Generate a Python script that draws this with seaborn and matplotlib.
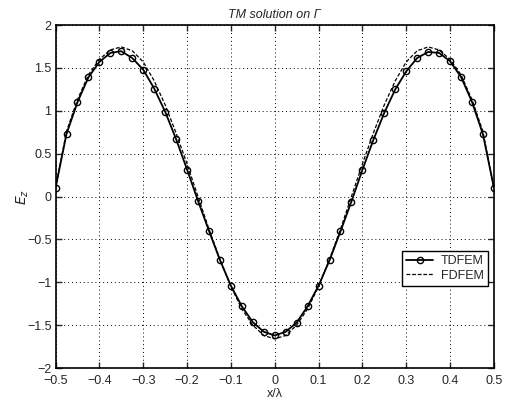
import numpy as np
import pandas as pd
import matplotlib
matplotlib.use("Agg")
import matplotlib.pyplot as plt
import seaborn as sns

# x positions (x/lambda)
x_vals = [-0.5, -0.475, -0.45, -0.425, -0.4, -0.375, -0.35, -0.325, -0.3, -0.275,
          -0.25, -0.225, -0.2, -0.175, -0.15, -0.125, -0.1, -0.075, -0.05, -0.025,
          0.0, 0.025, 0.05, 0.075, 0.1, 0.125, 0.15, 0.175, 0.2, 0.225,
          0.25, 0.275, 0.3, 0.325, 0.35, 0.375, 0.4, 0.425, 0.45, 0.475, 0.5]

tdfem = [0.10, 0.73, 1.10, 1.39, 1.57, 1.675, 1.695, 1.615, 1.48, 1.26,
         0.99, 0.67, 0.315, -0.05, -0.40, -0.74, -1.04, -1.28, -1.465, -1.577,
         -1.62, -1.577, -1.47, -1.28, -1.04, -0.744, -0.407, -0.058, 0.31, 0.66,
         0.977, 1.25, 1.46, 1.616, 1.686, 1.675, 1.578, 1.395, 1.105, 0.726, 0.105]

fdfem = [0.10, 0.76, 1.13, 1.42, 1.60, 1.71, 1.745, 1.70, 1.57, 1.35,
         1.07, 0.74, 0.38, 0.00, -0.38, -0.73, -1.05, -1.31, -1.50, -1.62,
         -1.66, -1.62, -1.50, -1.31, -1.05, -0.73, -0.38, 0.00, 0.38, 0.74,
         1.07, 1.35, 1.57, 1.70, 1.745, 1.71, 1.60, 1.42, 1.13, 0.76, 0.10]

x_ticks = [-0.5, -0.4, -0.3, -0.2, -0.1, 0, 0.1, 0.2, 0.3, 0.4, 0.5]
x_tick_labels = ["\u22120.5", "\u22120.4", "\u22120.3", "\u22120.2", "\u22120.1", "0",
                 "0.1", "0.2", "0.3", "0.4", "0.5"]
y_ticks = [-2, -1.5, -1, -0.5, 0, 0.5, 1, 1.5, 2]
y_tick_labels = ["\u22122", "\u22121.5", "\u22121", "\u22120.5", "0", "0.5", "1", "1.5", "2"]

sns.set_style("ticks")
plt.rcParams['font.family'] = ['Liberation Sans', 'DejaVu Sans']

fig = plt.figure(figsize=(5.05, 4.04), dpi=100)
ax = fig.add_axes([0.110, 0.089, 0.868, 0.849])

df_t = pd.DataFrame({"x": x_vals, "y": tdfem})
df_f = pd.DataFrame({"x": x_vals, "y": fdfem})

sns.lineplot(data=df_f, x="x", y="y", ax=ax, color="black", lw=0.9,
             linestyle=(0, (3, 1.5)), label="FDFEM")
sns.lineplot(data=df_t, x="x", y="y", ax=ax, color="black", lw=1.3,
             marker="o", markersize=4.5, markerfacecolor="none",
             markeredgecolor="black", markeredgewidth=1.0, label="TDFEM")

ax.set_xlim(-0.5, 0.5)
ax.set_ylim(-2, 2)
ax.set_xticks(x_ticks)
ax.set_xticklabels(x_tick_labels, fontsize=9)
ax.set_yticks(y_ticks)
ax.set_yticklabels(y_tick_labels, fontsize=9)
ax.tick_params(direction="in", length=4, width=1, top=True, right=True)
ax.tick_params(axis="x", pad=5)
ax.tick_params(axis="y", pad=3)
ax.grid(True, color="black", linestyle=(0, (1, 3)), linewidth=0.7)
for s in ax.spines.values():
    s.set_linewidth(1.2)
    s.set_color("black")

ax.set_title("TM solution on \u0393", fontsize=9, style="italic", pad=5)
ax.set_xlabel("x/\u03bb", fontsize=9, labelpad=1)
ax.set_ylabel("$E_z$", fontsize=10)
ax.yaxis.set_label_coords(-0.055, 0.5)

handles, labels = ax.get_legend_handles_labels()
order = [labels.index("TDFEM"), labels.index("FDFEM")]
leg = ax.legend([handles[i] for i in order], [labels[i] for i in order],
                loc="upper left", bbox_to_anchor=(0.775, 0.36), fontsize=9,
                frameon=True, fancybox=False, edgecolor="black", framealpha=1,
                handlelength=2.2, borderpad=0.35, labelspacing=0.2,
                handletextpad=0.6)
leg.get_frame().set_linewidth(1.0)

fig.savefig("out.png", dpi=100)
